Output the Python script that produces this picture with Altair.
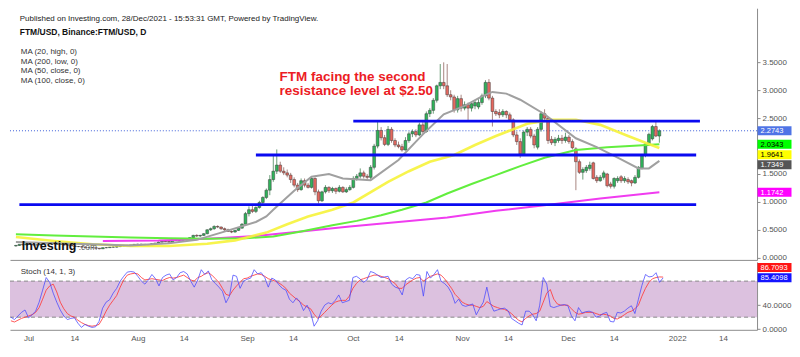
import altair as alt
import pandas as pd

# ---------------- values ----------------
first_day = "2021-06-26"

# daily candles (open, high, low, close)
jun_ohlc = [
    (0.21, 0.23, 0.20, 0.22), (0.22, 0.24, 0.21, 0.24), (0.24, 0.25, 0.22, 0.23),
    (0.23, 0.26, 0.23, 0.25), (0.25, 0.26, 0.23, 0.24)]
jul_ohlc = [
    (0.24, 0.25, 0.22, 0.23), (0.23, 0.24, 0.22, 0.23), (0.23, 0.25, 0.23, 0.24), (0.24, 0.26, 0.24, 0.25),
    (0.25, 0.27, 0.24, 0.26), (0.26, 0.28, 0.25, 0.27), (0.27, 0.28, 0.25, 0.26), (0.26, 0.26, 0.23, 0.24),
    (0.24, 0.25, 0.23, 0.24), (0.24, 0.25, 0.22, 0.23), (0.23, 0.24, 0.22, 0.23), (0.23, 0.23, 0.21, 0.21),
    (0.21, 0.22, 0.20, 0.20), (0.20, 0.21, 0.19, 0.20), (0.20, 0.21, 0.18, 0.19), (0.19, 0.20, 0.18, 0.18),
    (0.18, 0.19, 0.18, 0.18), (0.18, 0.19, 0.17, 0.18), (0.18, 0.18, 0.16, 0.17), (0.17, 0.17, 0.15, 0.16),
    (0.16, 0.18, 0.16, 0.18), (0.18, 0.19, 0.17, 0.18), (0.18, 0.19, 0.18, 0.19), (0.19, 0.20, 0.18, 0.19),
    (0.19, 0.20, 0.18, 0.20), (0.20, 0.22, 0.19, 0.21), (0.21, 0.22, 0.20, 0.22), (0.22, 0.23, 0.21, 0.22),
    (0.22, 0.23, 0.21, 0.23), (0.23, 0.24, 0.22, 0.24), (0.24, 0.25, 0.23, 0.24)]
aug_ohlc = [
    (0.24, 0.25, 0.23, 0.24), (0.24, 0.24, 0.22, 0.23), (0.23, 0.24, 0.22, 0.23), (0.23, 0.26, 0.23, 0.25),
    (0.25, 0.27, 0.24, 0.26), (0.26, 0.29, 0.25, 0.28), (0.28, 0.31, 0.27, 0.30), (0.30, 0.31, 0.28, 0.29),
    (0.29, 0.30, 0.27, 0.28), (0.28, 0.32, 0.28, 0.31), (0.31, 0.33, 0.30, 0.32), (0.32, 0.33, 0.30, 0.31),
    (0.31, 0.34, 0.31, 0.33), (0.33, 0.35, 0.32, 0.34), (0.34, 0.37, 0.33, 0.36), (0.36, 0.41, 0.35, 0.40),
    (0.40, 0.42, 0.37, 0.39), (0.39, 0.41, 0.37, 0.40), (0.40, 0.44, 0.39, 0.43), (0.43, 0.51, 0.42, 0.50),
    (0.50, 0.54, 0.48, 0.52), (0.52, 0.58, 0.50, 0.56), (0.56, 0.58, 0.53, 0.55), (0.55, 0.56, 0.50, 0.52),
    (0.52, 0.54, 0.48, 0.50), (0.50, 0.52, 0.46, 0.47), (0.47, 0.49, 0.44, 0.46), (0.46, 0.50, 0.45, 0.49),
    (0.49, 0.54, 0.48, 0.53), (0.53, 0.62, 0.52, 0.60), (0.60, 0.82, 0.59, 0.79)]
sep_ohlc = [
    (0.79, 0.92, 0.74, 0.86), (0.86, 0.94, 0.80, 0.83), (0.83, 0.92, 0.80, 0.90), (0.90, 1.02, 0.88, 0.99),
    (0.99, 1.10, 0.96, 1.08), (1.08, 1.24, 1.05, 1.21), (1.21, 1.48, 1.12, 1.40), (1.40, 1.84, 1.36, 1.55),
    (1.55, 1.94, 1.50, 1.66), (1.66, 1.72, 1.52, 1.55), (1.55, 1.62, 1.48, 1.52), (1.52, 1.58, 1.44, 1.48),
    (1.48, 1.52, 1.34, 1.40), (1.40, 1.44, 1.26, 1.30), (1.30, 1.34, 1.18, 1.22), (1.22, 1.42, 1.20, 1.38),
    (1.38, 1.42, 1.26, 1.30), (1.30, 1.34, 1.24, 1.26), (1.26, 1.45, 1.24, 1.42), (1.42, 1.44, 1.12, 1.18),
    (1.18, 1.22, 0.97, 1.02), (1.02, 1.20, 1.00, 1.18), (1.18, 1.30, 1.15, 1.26), (1.26, 1.28, 1.16, 1.20),
    (1.20, 1.27, 1.16, 1.24), (1.24, 1.26, 1.14, 1.19), (1.19, 1.30, 1.17, 1.26), (1.26, 1.28, 1.16, 1.18),
    (1.18, 1.26, 1.16, 1.22), (1.22, 1.30, 1.20, 1.26)]
oct_ohlc = [
    (1.26, 1.46, 1.24, 1.42), (1.42, 1.50, 1.38, 1.46), (1.46, 1.60, 1.42, 1.52), (1.52, 1.56, 1.42, 1.46),
    (1.46, 1.50, 1.40, 1.44), (1.44, 1.66, 1.40, 1.62), (1.62, 2.04, 1.58, 2.00), (2.00, 2.46, 1.96, 2.28),
    (2.28, 2.34, 2.10, 2.15), (2.15, 2.20, 2.00, 2.03), (2.03, 2.36, 2.00, 2.30), (2.30, 2.34, 2.06, 2.10),
    (2.10, 2.14, 1.98, 2.02), (2.02, 2.08, 1.96, 1.99), (1.99, 2.04, 1.90, 1.93), (1.93, 2.16, 1.92, 2.10),
    (2.10, 2.26, 2.06, 2.22), (2.22, 2.30, 2.16, 2.26), (2.26, 2.30, 2.16, 2.20), (2.20, 2.42, 2.18, 2.38),
    (2.38, 2.44, 2.22, 2.26), (2.26, 2.62, 2.24, 2.58), (2.58, 2.68, 2.52, 2.64), (2.64, 2.86, 2.58, 2.82),
    (2.82, 3.10, 2.78, 3.08), (3.08, 3.47, 3.02, 3.14), (3.14, 3.50, 3.02, 3.08), (3.08, 3.47, 2.88, 2.92),
    (2.92, 3.00, 2.82, 2.88), (2.88, 2.92, 2.60, 2.65), (2.65, 2.90, 2.60, 2.85)]
nov_ohlc = [
    (2.85, 2.92, 2.62, 2.68), (2.68, 2.80, 2.64, 2.74), (2.74, 2.78, 2.45, 2.68), (2.68, 2.80, 2.62, 2.76),
    (2.72, 2.82, 2.66, 2.78), (2.70, 2.84, 2.66, 2.78), (2.78, 2.94, 2.74, 2.90), (2.90, 3.18, 2.86, 3.14),
    (3.14, 3.20, 2.82, 2.86), (2.86, 2.90, 2.35, 2.62), (2.62, 2.66, 2.54, 2.58), (2.60, 2.66, 2.50, 2.56),
    (2.56, 2.66, 2.52, 2.62), (2.62, 2.64, 2.50, 2.56), (2.56, 2.60, 2.44, 2.47), (2.47, 2.50, 2.16, 2.20),
    (2.20, 2.26, 2.02, 2.08), (2.08, 2.14, 1.79, 1.86), (1.86, 2.28, 1.84, 2.25), (2.25, 2.34, 2.18, 2.30),
    (2.30, 2.34, 2.14, 2.18), (2.18, 2.22, 1.96, 2.02), (1.98, 2.34, 1.94, 2.30), (2.30, 2.62, 2.26, 2.58),
    (2.58, 2.66, 2.46, 2.50), (2.50, 2.52, 2.04, 2.10), (2.12, 2.18, 2.02, 2.06), (2.06, 2.16, 2.00, 2.12),
    (2.10, 2.20, 2.06, 2.14), (2.14, 2.20, 2.04, 2.10)]
dec_ohlc = [
    (2.10, 2.24, 2.06, 2.16), (2.16, 2.20, 2.04, 2.08), (2.08, 2.12, 1.94, 1.97), (1.95, 1.98, 1.21, 1.72),
    (1.72, 1.76, 1.50, 1.53), (1.53, 1.62, 1.40, 1.58), (1.56, 1.66, 1.52, 1.62), (1.60, 1.72, 1.56, 1.66),
    (1.70, 1.72, 1.40, 1.42), (1.44, 1.48, 1.34, 1.38), (1.38, 1.48, 1.36, 1.44), (1.44, 1.56, 1.40, 1.52),
    (1.50, 1.52, 1.26, 1.29), (1.32, 1.36, 1.24, 1.28), (1.28, 1.44, 1.24, 1.42), (1.38, 1.46, 1.34, 1.42),
    (1.45, 1.48, 1.34, 1.38), (1.38, 1.46, 1.34, 1.42), (1.40, 1.44, 1.32, 1.36), (1.38, 1.40, 1.28, 1.34),
    (1.34, 1.48, 1.32, 1.44), (1.44, 1.64, 1.42, 1.62), (1.60, 1.86, 1.58, 1.84), (1.84, 2.06, 1.80, 2.04),
    (2.04, 2.24, 2.00, 2.21), (2.13, 2.38, 2.10, 2.35), (2.35, 2.44, 2.16, 2.18), (2.18, 2.30, 2.06, 2.2743)]

# stochastic %K (blue) and %D (red), one value per day
k_jun = [20, 16, 22, 28, 32]
k_jul = [19, 24, 30, 45, 65, 86, 78, 60, 45, 32, 22, 16, 18, 19, 10, 3, 8, 5, 3, 4, 13, 35, 45, 49, 60,
         68, 80, 88, 95, 96, 95]
k_aug = [88, 80, 75, 82, 91, 84, 72, 86, 90, 92, 82, 86, 94, 96, 92, 80, 70, 82, 99, 91, 97, 82, 76, 70,
         63, 44, 55, 90, 88, 68, 80]
k_sep = [83, 85, 99, 92, 94, 86, 70, 85, 82, 74, 68, 65, 50, 44, 52, 45, 31, 40, 28, 5, 14, 30, 40, 44,
         42, 48, 57, 44, 46, 48]
k_oct = [86, 88, 84, 78, 82, 96, 94, 90, 86, 87, 88, 75, 70, 68, 57, 82, 86, 84, 91, 90, 55, 96, 85, 91,
         99, 80, 76, 70, 60, 43, 50]
k_nov = [40, 38, 40, 42, 24, 35, 45, 70, 43, 30, 32, 34, 35, 31, 18, 14, 10, 7, 30, 30, 24, 14, 40, 86,
         75, 38, 36, 38, 40, 41]
k_dec = [39, 22, 14, 36, 27, 29, 30, 28, 20, 22, 26, 28, 13, 12, 28, 27, 30, 35, 39, 26, 50, 73, 91, 87,
         88, 94, 78, 85.4098]

d_jun = [14, 12, 15, 18, 20]
d_jul = [22, 24, 28, 36, 50, 65, 72, 75, 62, 45, 34, 26, 22, 20, 15, 11, 8, 6, 5, 6, 8, 18, 30, 40, 48,
         56, 70, 82, 90, 92, 93]
d_aug = [92, 86, 82, 83, 84, 83, 82, 81, 84, 86, 85, 86, 88, 90, 86, 82, 80, 86, 88, 92, 94, 90, 84, 78,
         68, 58, 56, 65, 72, 78, 84]
d_sep = [85, 88, 90, 92, 91, 88, 84, 82, 80, 77, 73, 68, 60, 55, 50, 46, 40, 37, 34, 25, 18, 22, 28, 34,
         40, 45, 47, 48, 48, 55]
d_oct = [68, 76, 82, 84, 86, 88, 90, 90, 88, 86, 84, 80, 76, 68, 68, 74, 78, 82, 85, 86, 80, 84, 88, 90,
         92, 90, 84, 76, 68, 58, 52]
d_nov = [45, 42, 40, 40, 38, 36, 38, 46, 42, 38, 36, 34, 33, 30, 26, 20, 15, 12, 18, 22, 25, 26, 30, 45,
         60, 66, 50, 42, 40, 40]
d_dec = [40, 34, 28, 25, 26, 28, 28, 28, 26, 24, 25, 24, 22, 18, 17, 20, 24, 28, 30, 34, 40, 55, 68, 78,
         84, 86, 87, 86.7093]

# moving averages, read at points along each line
ma20_dates = ["2021-06-26", "2021-07-07", "2021-07-18", "2021-07-29", "2021-08-09", "2021-08-17",
              "2021-08-24", "2021-09-03", "2021-09-06", "2021-09-08", "2021-09-14", "2021-09-19",
              "2021-09-24", "2021-09-28", "2021-10-06", "2021-10-14", "2021-10-21", "2021-10-27",
              "2021-11-02", "2021-11-07", "2021-11-10", "2021-11-14", "2021-11-18", "2021-11-25",
              "2021-12-04", "2021-12-10", "2021-12-17", "2021-12-22", "2021-12-25", "2021-12-28"]
ma20_vals = [0.28, 0.26, 0.24, 0.22, 0.26, 0.32, 0.45, 0.64, 0.74, 0.86, 1.20, 1.45, 1.50, 1.42, 1.39,
             1.75, 2.21, 2.57, 2.72, 2.89, 2.97, 2.94, 2.83, 2.57, 2.14, 1.98, 1.76, 1.60, 1.60, 1.7349]

ma50_dates = ["2021-06-26", "2021-07-07", "2021-07-18", "2021-07-29", "2021-08-09", "2021-08-20",
              "2021-08-28", "2021-09-06", "2021-09-12", "2021-09-18", "2021-09-25", "2021-10-01",
              "2021-10-11", "2021-10-17", "2021-10-23", "2021-10-30", "2021-11-05", "2021-11-11",
              "2021-11-20", "2021-11-27", "2021-12-04", "2021-12-11", "2021-12-19", "2021-12-24",
              "2021-12-28"]
ma50_vals = [0.37, 0.30, 0.24, 0.21, 0.21, 0.25, 0.31, 0.45, 0.60, 0.74, 0.86, 0.99, 1.36, 1.55, 1.72,
             1.84, 2.02, 2.18, 2.40, 2.47, 2.47, 2.38, 2.18, 2.06, 1.9641]

ma100_dates = ["2021-06-26", "2021-07-07", "2021-07-18", "2021-07-29", "2021-08-09", "2021-08-20",
               "2021-08-31", "2021-09-08", "2021-09-16", "2021-09-25", "2021-10-02", "2021-10-09",
               "2021-10-15", "2021-10-22", "2021-10-28", "2021-11-04", "2021-11-11", "2021-11-18",
               "2021-11-25", "2021-12-04", "2021-12-13", "2021-12-22", "2021-12-28"]
ma100_vals = [0.42, 0.40, 0.38, 0.36, 0.35, 0.34, 0.35, 0.38, 0.47, 0.58, 0.66, 0.76, 0.86, 0.99, 1.15,
              1.32, 1.48, 1.64, 1.79, 1.93, 1.98, 2.01, 2.0343]

ma200_dates = ["2021-07-21", "2021-08-06", "2021-08-20", "2021-09-03", "2021-09-16", "2021-09-30",
               "2021-10-14", "2021-10-28", "2021-11-11", "2021-11-25", "2021-12-11", "2021-12-28"]
ma200_vals = [0.30, 0.31, 0.34, 0.39, 0.47, 0.56, 0.64, 0.72, 0.84, 0.94, 1.06, 1.1742]

# drawn support / resistance lines
level_vals = [2.447, 1.84, 0.95]
level_start = ["2021-10-01T00:00:00", "2021-09-03T00:00:00", "2021-06-27T00:00:00"]
level_end = ["2022-01-08T16:00:00", "2022-01-07T14:00:00", "2022-01-07T14:00:00"]

# price tags on the right scale: value, text colour, background, vertical nudge (px)
price_tags = [(2.2743, "white", "#4f74e6", 0), (2.0343, "black", "#00ff00", 0),
              (1.9641, "black", "#ffff00", 6.6), (1.7349, "white", "#555555", 4.0),
              (1.1742, "white", "#ff00ff", 0)]
stoch_tags = [(86.7093, "white", "#ff1414", -9.6), (85.4098, "white", "#1414ff", 0)]

# visible scale labels (2.0000 and 80.0000 are hidden behind the tags in the picture)
price_ticks = [0, 0.5, 1, 1.5, 2.5, 3, 3.5]
stoch_ticks = [0, 40]

x_tick_dates = [(2021, 7, 1), (2021, 7, 14), (2021, 8, 1), (2021, 8, 14), (2021, 9, 1), (2021, 9, 14),
                (2021, 10, 1), (2021, 10, 14), (2021, 11, 1), (2021, 11, 14), (2021, 12, 1),
                (2021, 12, 14), (2022, 1, 1), (2022, 1, 14)]

# ---------------- tables ----------------
ohlc = jun_ohlc + jul_ohlc + aug_ohlc + sep_ohlc + oct_ohlc + nov_ohlc + dec_ohlc
days = pd.date_range(first_day, periods=len(ohlc), freq="D").strftime("%Y-%m-%dT00:00:00")
candles = pd.DataFrame(ohlc, columns=["open", "high", "low", "close"])
candles["date"] = list(days)
stoch = pd.DataFrame({"date": list(days),
                      "k": k_jun + k_jul + k_aug + k_sep + k_oct + k_nov + k_dec,
                      "d": d_jun + d_jul + d_aug + d_sep + d_oct + d_nov + d_dec})


def ma_frame(dates, vals):
    return pd.DataFrame({"date": [d + "T00:00:00" for d in dates], "v": vals})


levels = pd.DataFrame({"level": level_vals, "start": level_start, "end": level_end})

# ---------------- layout ----------------
W, H1, H2 = 748, 252, 68
SXF, SYF = W / 765.0, H1 / 266.0
FONT = "Liberation Sans"
TAGW = 34
BOX = "M-1,-0.265L1,-0.265L1,0.265L-1,0.265Z"

xscale = alt.Scale(domain=[alt.DateTime(year=2021, month=6, date=25, hours=17, minutes=41),
                           alt.DateTime(year=2022, month=1, date=23, hours=15, minutes=35)])
x_hidden = alt.Axis(labels=False, ticks=False, title=None, grid=False, domainColor="#8c8c8c")
x_shown = alt.Axis(values=[alt.DateTime(year=y, month=m, date=d) for (y, m, d) in x_tick_dates],
                   labelExpr="date(datum.value) == 1 ? (month(datum.value) == 0 ? '2022' : "
                             "timeFormat(datum.value, '%b')) : '14'",
                   ticks=False, title=None, grid=False, domainColor="#8c8c8c", labelColor="#555555",
                   labelFontSize=8, labelPadding=5, labelFont=FONT, labelFlush=False)

pscale = alt.Scale(domain=[-0.039, 4.47], nice=False, zero=False)
paxis = alt.Axis(orient="right", values=price_ticks, format=".4f", title=None,
                 grid=False, labelFontSize=8, labelColor="#555555", tickColor="#8c8c8c", tickSize=3,
                 domainColor="#8c8c8c", labelPadding=2, labelFont=FONT)
sscale = alt.Scale(domain=[-1, 112], nice=False, zero=False)
saxis = alt.Axis(orient="right", values=stoch_ticks, format=".4f", title=None, grid=False,
                 labelFontSize=8, labelColor="#555555", tickColor="#8c8c8c", tickSize=3,
                 domainColor="#8c8c8c", labelPadding=2, labelFont=FONT)


def PX(f):
    return alt.X(f, scale=xscale, axis=x_hidden)


def SXa(f):
    return alt.X(f, scale=xscale, axis=x_shown)


def PY(f):
    return alt.Y(f, scale=pscale, axis=paxis)


def SY(f):
    return alt.Y(f, scale=sscale, axis=saxis)


def label(text, x, y, size=8, color="#333333", weight="normal"):
    return alt.Chart(pd.DataFrame({"t": [text]})).mark_text(
        align="left", baseline="alphabetic", fontSize=size, color=color, fontWeight=weight, font=FONT
    ).encode(x=alt.value(x), y=alt.value(y), text="t:N")


def tags(items, yf):
    out = []
    for v, fg, bg, off in items:
        df = pd.DataFrame({"v": [v]})
        out.append(alt.Chart(df).mark_point(shape=BOX, size=TAGW * TAGW, filled=True, color=bg,
                                            opacity=1, strokeWidth=0, yOffset=off)
                   .encode(x=alt.value(W + TAGW / 2 + 0.5), y=yf("v:Q")))
        out.append(alt.Chart(df).mark_text(align="left", baseline="middle", fontSize=7.5, color=fg,
                                           font=FONT, yOffset=off + 0.5)
                   .encode(x=alt.value(W + 3.5), y=yf("v:Q"), text=alt.Text("v:Q", format=".4f")))
    return out


up = "datum.close >= datum.open"
last_close = ohlc[-1][3]

price_layers = [
    alt.Chart(pd.DataFrame({"v": [last_close]})).mark_rule(
        color="#3d5fd9", strokeDash=[1, 2], strokeWidth=1
    ).encode(x=alt.value(0), x2=alt.value(W), y=PY("v:Q")),
    alt.Chart(candles).mark_rule(strokeWidth=1).encode(
        x=PX("date:T"), y=PY("low:Q"), y2="high:Q",
        color=alt.condition(up, alt.value("#6a9e78"), alt.value("#a88682"))),
    alt.Chart(candles).mark_bar(size=2.8, stroke="#3a3a3a", strokeWidth=0.5).encode(
        x=PX("date:T"), y=PY("open:Q"), y2="close:Q",
        color=alt.condition(up, alt.value("#2fb35a"), alt.value("#e5685f"))),
    alt.Chart(ma_frame(ma200_dates, ma200_vals)).mark_line(color="#f03cf0", strokeWidth=2).encode(
        x=PX("date:T"), y=PY("v:Q")),
    alt.Chart(ma_frame(ma100_dates, ma100_vals)).mark_line(color="#62ee3e", strokeWidth=2).encode(
        x=PX("date:T"), y=PY("v:Q")),
    alt.Chart(ma_frame(ma50_dates, ma50_vals)).mark_line(color="#f6f33a", strokeWidth=2.6,
                                                         opacity=0.9).encode(
        x=PX("date:T"), y=PY("v:Q")),
    alt.Chart(ma_frame(ma20_dates, ma20_vals)).mark_line(color="#a0a0a0", strokeWidth=2).encode(
        x=PX("date:T"), y=PY("v:Q")),
    alt.Chart(levels).mark_rule(color="#0a0af0", strokeWidth=2.8).encode(
        x=PX("start:T"), x2="end:T", y=PY("level:Q")),
    label("Published on Investing.com, 28/Dec/2021 - 15:53:31 GMT, Powered by TradingView.",
          10 * SXF, 13 * SYF, size=8, color="#222222"),
    label("FTM/USD, Binance:FTM/USD, D", 10 * SXF, 28.5 * SYF, size=8.5, color="#111111", weight="bold"),
    label("MA (20, high, 0)", 11 * SXF, 48 * SYF),
    label("MA (200, low, 0)", 11 * SXF, 58.7 * SYF),
    label("MA (50, close, 0)", 11 * SXF, 69 * SYF),
    label("MA (100, close, 0)", 11 * SXF, 79.5 * SYF),
    label("FTM facing the second", 276 * SXF, 77 * SYF, size=13.5, color="#ec1c24", weight="bold"),
    label("resistance level at $2.50", 276 * SXF, 92 * SYF, size=13.5, color="#ec1c24", weight="bold"),
    label("Investing", 12 * SXF, 256 * SYF, size=12.5, color="#111111", weight="bold"),
    label(".com", 12 * SXF + 57, 256 * SYF, size=8.5, color="#666666"),
] + tags(price_tags, PY)

stoch_layers = [
    alt.Chart(pd.DataFrame({"lo": [20], "hi": [80]})).mark_rect(color="#dcc1df").encode(
        x=alt.value(0), x2=alt.value(W), y=SY("lo:Q"), y2="hi:Q"),
    alt.Chart(pd.DataFrame({"b": [20, 80]})).mark_rule(color="#8a8a8a", strokeDash=[4, 3],
                                                        strokeWidth=1).encode(
        x=alt.value(0), x2=alt.value(W), y=SY("b:Q")),
    alt.Chart(stoch).mark_line(color="#ff3b3b", strokeWidth=1, opacity=0.85).encode(
        x=SXa("date:T"), y=SY("d:Q")),
    alt.Chart(stoch).mark_line(color="#4646ff", strokeWidth=1, opacity=0.75).encode(
        x=SXa("date:T"), y=SY("k:Q")),
    label("Stoch (14, 1, 3)", 11 * SXF, 13 * H2 / 72.0),
] + tags(stoch_tags, SY)

price = alt.layer(*price_layers).properties(width=W, height=H1)
stoch_chart = alt.layer(*stoch_layers).properties(width=W, height=H2)

chart = alt.vconcat(price, stoch_chart, spacing=0).properties(
    padding=0, background="white"
).configure_view(stroke=None)

chart.save("out.html", embed_options={"renderer": "svg", "actions": False})
